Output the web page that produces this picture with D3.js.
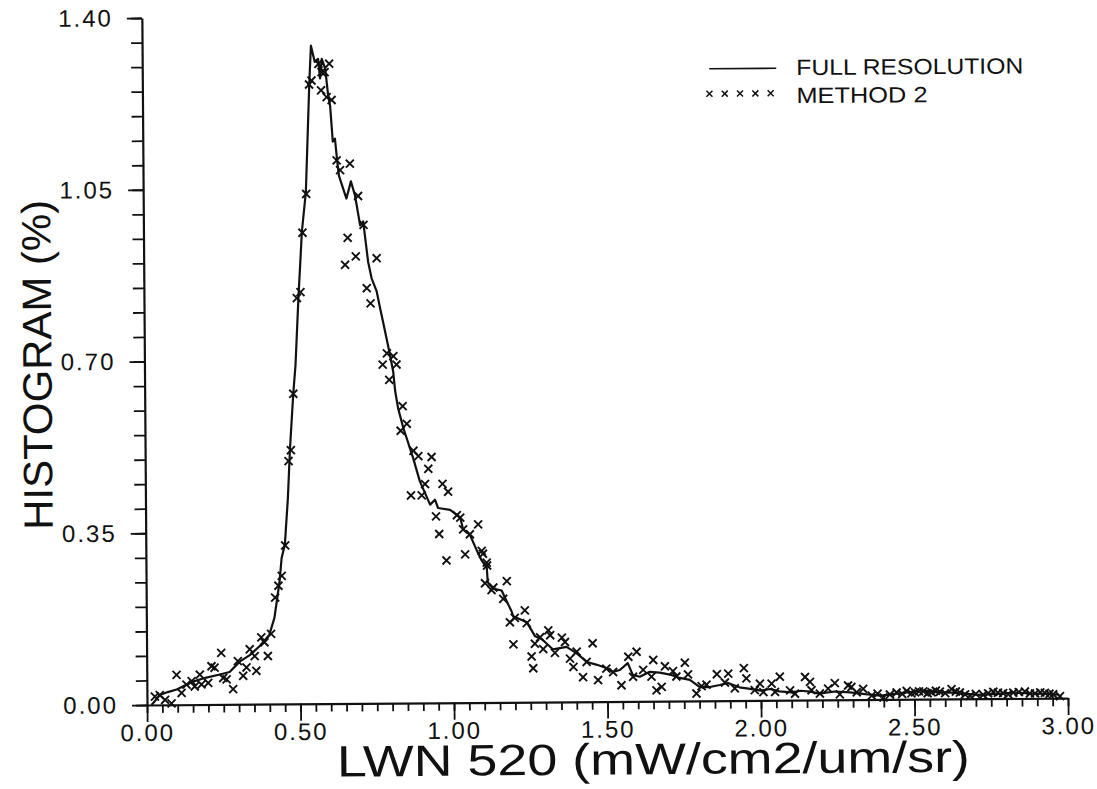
<!DOCTYPE html>
<html>
<head>
<meta charset="utf-8">
<script src="https://cdn.jsdelivr.net/npm/d3@7"></script>
<style>
  body { margin: 0; background: #fff; }
  svg { display: block; }
  text { font-family: "Liberation Sans", Arial, sans-serif; fill: #111; }
</style>
</head>
<body>
<div id="here"></div>
<script>
// DATA
// full resolution histogram, LWN 520 value and percent
const fullX = [0.015,0.042,0.068,0.097,0.117,0.150,0.194,0.238,0.270,0.303,0.336,0.368,0.400,0.417,0.427,0.435,0.442,0.453,0.464,0.472,0.484,0.492,0.503,0.516,0.530,0.544,0.550,
  0.562,0.573,0.579,0.585,0.596,0.605,0.611,0.619,0.626,0.632,0.638,0.662,0.677,0.690,0.706,0.716,0.731,0.742,0.758,0.769,
  0.778,0.799,0.810,0.816,0.825,0.842,0.873,0.894,0.927,0.943,0.953,0.992,1.025,1.034,1.056,1.078,1.094,1.110,1.113,1.130,1.158,1.168,1.190,1.195,1.217,1.239,1.266,1.288,1.324,1.368,1.400,1.434,1.467,1.499,1.518,1.541,1.567,1.583,1.606,1.638,1.671,1.704,1.736,1.769,1.801,1.834,1.866,1.893,
  1.930,1.960,2.000,2.030,2.060,2.100,2.130,2.160,2.190,2.240,2.290,2.340,2.390,2.450,2.490,2.520,2.570,2.620,2.670,2.710,2.780,2.830,2.880,2.930,2.970];
const fullY = [0.000,0.020,0.026,0.031,0.037,0.047,0.055,0.061,0.066,0.087,0.100,0.118,0.141,0.175,0.216,0.251,0.297,0.325,0.420,0.520,0.632,0.690,0.825,0.962,1.043,1.267,1.341,
  1.308,1.314,1.274,1.314,1.294,1.239,1.219,1.145,1.151,1.111,1.076,1.029,1.064,1.035,0.974,0.982,0.900,0.866,0.840,0.805,
  0.778,0.713,0.676,0.636,0.601,0.560,0.499,0.452,0.404,0.414,0.397,0.393,0.377,0.353,0.342,0.310,0.289,0.275,0.245,0.232,0.228,0.214,0.185,0.175,0.169,0.163,0.134,0.128,0.107,0.112,0.099,0.081,0.075,0.068,0.060,0.064,0.078,0.054,0.050,0.060,0.058,0.054,0.047,0.043,0.028,0.028,0.032,0.036,
  0.027,0.024,0.020,0.023,0.018,0.016,0.019,0.017,0.013,0.017,0.015,0.011,0.008,0.012,0.015,0.018,0.014,0.013,0.010,0.008,0.010,0.012,0.010,0.009,0.007];

// method 2 estimates
const m2X = [0.026,0.042,0.059,0.080,0.097,0.113,0.129,0.146,0.156,0.173,0.178,0.200,0.211,0.221,0.243,0.249,0.260,0.281,0.297,0.314,0.325,0.336,0.352,0.357,0.374,0.384,0.395,0.406,0.420,0.431,0.442,0.454,0.467,0.475,0.484,
  0.498,0.510,0.518,0.531,0.543,0.551,0.574,0.584,0.594,0.609,0.582,0.600,0.616,0.631,0.642,0.674,0.700,0.717,0.665,0.656,0.691,0.759,0.726,0.738,
  0.790,0.811,0.776,0.821,0.797,0.840,0.853,0.833,0.874,0.890,0.933,0.922,0.911,0.865,0.900,0.968,0.986,0.946,0.956,1.014,1.025,1.034,1.056,1.083,0.979,1.040,1.094,1.110,1.098,1.104,1.131,1.175,1.111,1.125,1.163,
  1.233,1.184,1.200,1.239,1.195,1.254,1.259,1.265,1.282,1.292,1.309,1.315,1.330,1.353,1.363,1.379,1.390,1.401,1.421,1.433,1.453,1.470,1.497,1.519,1.546,1.569,1.596,1.584,1.617,1.650,1.644,1.660,1.677,1.688,1.714,1.725,1.753,1.763,1.790,1.807,1.823,1.857,1.883,
  1.894,1.915,1.945,1.953,1.980,1.997,2.008,2.035,2.046,2.062,2.095,2.111,2.144,2.160,2.165,2.192,2.219,2.241,2.257,2.284,2.295,2.312,2.333,2.361,2.380,2.399,2.420,2.442,2.460,2.475,2.490,2.502,2.515,2.529,2.543,2.556,2.570,2.583,2.600,2.621,2.635,2.648,2.665,2.681,2.700,2.724,2.740,2.757,2.772,2.789,2.805,2.822,2.840,2.860,2.876,2.893,2.910,2.925,2.940,2.952,2.974];
const m2Y = [0.017,0.020,0.010,0.003,0.061,0.024,0.041,0.048,0.037,0.061,0.041,0.044,0.078,0.075,0.105,0.054,0.051,0.031,0.088,0.058,0.075,0.112,0.098,0.068,0.136,0.126,0.098,0.143,0.217,0.241,0.261,0.323,0.495,0.517,0.632,
  0.827,0.839,0.960,1.039,1.262,1.270,1.304,1.287,1.287,1.304,1.250,1.236,1.230,1.107,1.087,1.100,1.034,0.975,0.949,0.894,0.911,0.907,0.846,0.815,
  0.713,0.707,0.690,0.690,0.659,0.605,0.569,0.555,0.514,0.503,0.501,0.477,0.446,0.423,0.423,0.446,0.430,0.380,0.344,0.382,0.377,0.353,0.343,0.363,0.290,0.302,0.309,0.285,0.303,0.243,0.234,0.247,0.279,0.229,0.211,
  0.187,0.163,0.172,0.161,0.118,0.093,0.069,0.119,0.132,0.108,0.146,0.136,0.100,0.131,0.122,0.088,0.071,0.102,0.050,0.081,0.119,0.044,0.067,0.060,0.033,0.091,0.101,0.050,0.064,0.084,0.050,0.022,0.029,0.071,0.061,0.050,0.078,0.054,0.015,0.030,0.033,0.054,0.037,
  0.055,0.025,0.066,0.045,0.021,0.034,0.017,0.034,0.017,0.048,0.020,0.013,0.047,0.037,0.020,0.013,0.023,0.034,0.011,0.029,0.026,0.015,0.022,0.008,0.012,0.004,0.010,0.014,0.011,0.017,0.012,0.014,0.016,0.016,0.012,0.014,0.017,0.015,0.012,0.020,0.015,0.013,0.009,0.006,0.010,0.008,0.011,0.014,0.012,0.011,0.009,0.012,0.013,0.014,0.010,0.010,0.012,0.011,0.009,0.008,0.004];

const xMajor = [0, 0.5, 1, 1.5, 2, 2.5, 3];
const yMajor = [0, 0.35, 0.70, 1.05, 1.40];
const xMinor = d3.range(0, 61).map(i => i * 0.05);
const yMinor = d3.range(0, 29).map(i => i * 0.05);

const legendNames = ["FULL RESOLUTION", "METHOD 2"];
const legendWidths = [227, 131];

// LAYOUT
const width = 1097, height = 789;
const margin = { top: 18, right: 29, bottom: 84, left: 147 };

const svg = d3.select("#here")
  .append("svg")
  .attr("width", width)
  .attr("height", height);

// the original scan is tilted a little
const g = svg.append("g")
  .attr("transform", `rotate(-0.43, ${margin.left}, ${height - margin.bottom})`);

const x = d3.scaleLinear()
  .domain([0, 3])
  .range([margin.left, width - margin.right]);

const y = d3.scaleLinear()
  .domain([0, 1.4])
  .range([height - margin.bottom, margin.top]);

// x axis: minor then major ticks
g.append("g")
  .attr("transform", `translate(0, ${y(0)})`)
  .call(d3.axisBottom(x).tickValues(xMinor).tickSize(8).tickSizeOuter(0))
  .call(a => a.select(".domain").remove())
  .call(a => a.selectAll("text").remove());

const xAxis = g.append("g")
  .attr("transform", `translate(0, ${y(0)})`)
  .call(d3.axisBottom(x).tickValues(xMajor).tickSize(17).tickSizeOuter(0).tickPadding(2).tickFormat(d3.format(".2f")));
xAxis.selectAll("text")
  .style("font-size", "24px")
  .style("letter-spacing", "2px");

// y axis
g.append("g")
  .attr("transform", `translate(${x(0)}, 0)`)
  .call(d3.axisLeft(y).tickValues(yMinor).tickSize(11).tickSizeOuter(0))
  .call(a => a.select(".domain").remove())
  .call(a => a.selectAll("text").remove());

const yAxis = g.append("g")
  .attr("transform", `translate(${x(0)}, 0)`)
  .call(d3.axisLeft(y).tickValues(yMajor).tickSize(15).tickSizeOuter(0).tickPadding(14).tickFormat(d3.format(".2f")));
yAxis.selectAll("text")
  .style("font-size", "24px")
  .style("letter-spacing", "2px");

g.selectAll(".tick line").attr("stroke", "#111").attr("stroke-width", 1.8);
g.selectAll(".domain").attr("stroke", "#111").attr("stroke-width", 2.2);

// axis titles
g.append("text")
  .attr("x", 653)
  .attr("y", 778)
  .attr("text-anchor", "middle")
  .attr("textLength", 633)
  .attr("lengthAdjust", "spacingAndGlyphs")
  .style("font-size", "44px")
  .text("LWN 520 (mW/cm2/um/sr)");

g.append("text")
  .attr("transform", "translate(54, 364) rotate(-90)")
  .attr("text-anchor", "middle")
  .attr("textLength", 330)
  .attr("lengthAdjust", "spacingAndGlyphs")
  .style("font-size", "41px")
  .text("HISTOGRAM (%)");

// full resolution line
const fullData = fullX.map((d, i) => ({ x: d, y: fullY[i] }));
const line = d3.line()
  .x(d => x(d.x))
  .y(d => y(d.y));

g.append("path")
  .datum(fullData)
  .attr("fill", "none")
  .attr("stroke", "#111")
  .attr("stroke-width", 2.2)
  .attr("stroke-linejoin", "round")
  .attr("d", line);

// method 2 crosses
const m2Data = m2X.map((d, i) => ({ x: d, y: m2Y[i] }));
const cross = s => `M${-s},${-s}L${s},${s}M${-s},${s}L${s},${-s}`;

g.selectAll("path.cross")
  .data(m2Data)
  .enter()
  .append("path")
  .attr("class", "cross")
  .attr("transform", d => `translate(${x(d.x)}, ${y(d.y)})`)
  .attr("d", cross(4))
  .attr("fill", "none")
  .attr("stroke", "#111")
  .attr("stroke-width", 1.9);

// legend
const legend = g.append("g").attr("transform", "translate(714, 73)");

legend.append("line")
  .attr("x1", 0).attr("x2", 67)
  .attr("y1", 0).attr("y2", 0)
  .attr("stroke", "#111")
  .attr("stroke-width", 1.6);

legend.selectAll("path.lcross")
  .data(d3.range(5))
  .enter()
  .append("path")
  .attr("class", "lcross")
  .attr("transform", d => `translate(${d * 15.3}, 25)`)
  .attr("d", cross(3))
  .attr("stroke", "#111")
  .attr("stroke-width", 1.5);

legend.selectAll("text")
  .data(legendNames)
  .enter()
  .append("text")
  .attr("x", 87)
  .attr("y", (d, i) => 7 + i * 28)
  .attr("textLength", (d, i) => legendWidths[i])
  .attr("lengthAdjust", "spacingAndGlyphs")
  .style("font-size", "22px")
  .text(d => d);
</script>
</body>
</html>
